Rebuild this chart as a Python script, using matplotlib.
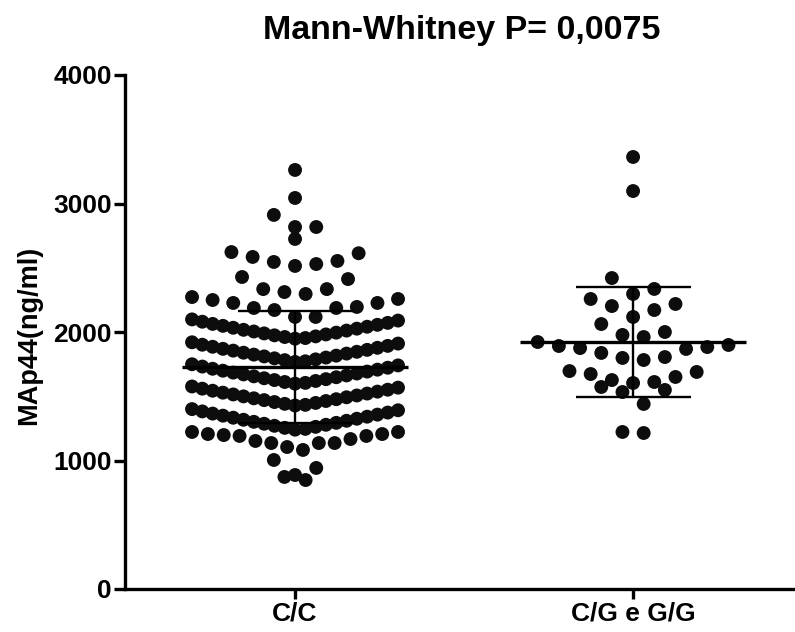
import numpy as np
import matplotlib
matplotlib.use('Agg')
import matplotlib.pyplot as plt

plt.rcParams['font.family'] = ['Liberation Sans', 'DejaVu Sans']
plt.rcParams['font.weight'] = 'bold'

categories = ['C/C', 'C/G e G/G']
title_text = 'Mann-Whitney P= 0,0075'
ylabel_text = 'MAp44(ng/ml)'
yticks = [0, 1000, 2000, 3000, 4000]

# C/C group
cc_upper = [3261, 3043, 2911, 2817, 2817, 2724,
            2613, 2622, 2553, 2529, 2514, 2545, 2584,
            2428, 2412, 2334, 2296, 2311, 2334,
            2272, 2257, 2226, 2187, 2171, 2226, 2187, 2195, 2249, 2117, 2117]
cc_row_a = [1948, 1953, 1961, 1966, 1974, 1981, 1989, 1995, 2004, 2011, 2017,
            2026, 2033, 2041, 2048, 2056, 2063, 2071, 2080, 2089, 2098]
cc_row_b = [1767, 1772, 1781, 1787, 1795, 1801, 1810, 1816, 1824, 1832, 1839,
            1846, 1855, 1861, 1869, 1877, 1885, 1892, 1901, 1910, 1920]
cc_row_c = [1598, 1604, 1611, 1619, 1626, 1633, 1640, 1648, 1655, 1662, 1670,
            1677, 1684, 1692, 1699, 1707, 1714, 1722, 1731, 1740, 1749]
cc_row_d = [1428, 1433, 1441, 1448, 1455, 1463, 1470, 1477, 1484, 1492, 1499,
            1506, 1514, 1521, 1528, 1536, 1543, 1551, 1559, 1567, 1576]
cc_row_e = [1240, 1246, 1254, 1262, 1270, 1278, 1286, 1293, 1301, 1309, 1317,
            1325, 1333, 1341, 1349, 1357, 1365, 1373, 1382, 1391, 1400]
cc_lower = [1222, 1206, 1191, 1191, 1136, 1136, 1105, 1082, 1136, 1152, 1167,
            1198, 1206, 1222, 1004, 942, 887, 872, 848]

# C/G e G/G group
cg_values = [3362, 3097, 2420, 2335, 2296, 2257, 2202, 2171, 2218, 2117,
             2062, 2000, 1961, 1977, 1922, 1891, 1875, 1837, 1798, 1782,
             1805, 1868, 1883, 1899, 1696, 1673, 1626, 1650, 1689, 1611,
             1572, 1533, 1549, 1603, 1440, 1214, 1222]

group_means = [1730, 1922]
group_sds = [436, 428]

cc_values = cc_upper + cc_row_a + cc_row_b + cc_row_c + cc_row_d + cc_row_e + cc_lower
groups = [cc_values, cg_values]

BIN = 175.0
ANCHOR = 1230.0


def row_offsets(vals, step, maxw):
    vals = np.asarray(vals, float)
    bins = np.floor((vals - ANCHOR) / BIN).astype(int)
    xo = np.zeros(len(vals))
    for b in np.unique(bins):
        idx = np.where(bins == b)[0]
        idx = idx[np.argsort(vals[idx], kind='stable')]
        n = len(idx)
        s = step if n < 2 else min(step, maxw / (n - 1))
        pos = (np.arange(n) - (n - 1) / 2.0) * s
        order = sorted(range(n), key=lambda k: (round(abs(pos[k]), 6), -pos[k]))
        for j, k in zip(idx, order):
            xo[j] = pos[k]
    return xo


fig = plt.figure(figsize=(7.95, 6.32), dpi=100)
ax = fig.add_axes([125 / 795, 43 / 632, 670 / 795, 514 / 632])

xlim = (-0.503, 1.479)
px_per_unit = 670 / (xlim[1] - xlim[0])
step = 21.2 / px_per_unit
maxw = 206 / px_per_unit

for i, vals in enumerate(groups):
    xo = row_offsets(vals, step, maxw)
    ax.scatter(i + xo, vals, s=100, color='#0d0d0d', edgecolors='none', zorder=3)
    m, sd = group_means[i], group_sds[i]
    ax.hlines(m, i - 0.334, i + 0.334, color='black', lw=2.4, zorder=5)
    ax.vlines(i, m - sd, m + sd, color='black', lw=1.7, zorder=5)
    ax.hlines([m - sd, m + sd], i - 0.17, i + 0.17, color='black', lw=1.7, zorder=5)

ax.set_xlim(*xlim)
ax.set_ylim(0, 4000)
ax.set_yticks(yticks)
ax.set_yticklabels([str(t) for t in yticks])
ax.set_xticks(range(len(categories)))
ax.set_xticklabels(categories)

for sp in ['top', 'right']:
    ax.spines[sp].set_visible(False)
for sp in ['left', 'bottom']:
    ax.spines[sp].set_linewidth(2.4)
ax.tick_params(axis='y', width=2.4, length=8, pad=1.5, labelsize=19)
ax.tick_params(axis='x', width=2.4, length=7, pad=2, labelsize=19)
for lab in ax.get_xticklabels() + ax.get_yticklabels():
    lab.set_fontweight('bold')

fig.text(29 / 795, 1 - 335 / 632, ylabel_text, rotation=90, ha='center', va='center',
         fontsize=19.5, fontweight='bold')
fig.text(462 / 795, 1 - 30 / 632, title_text, ha='center', va='center',
         fontsize=24.5, fontweight='bold')

fig.savefig('out.png', dpi=100)
